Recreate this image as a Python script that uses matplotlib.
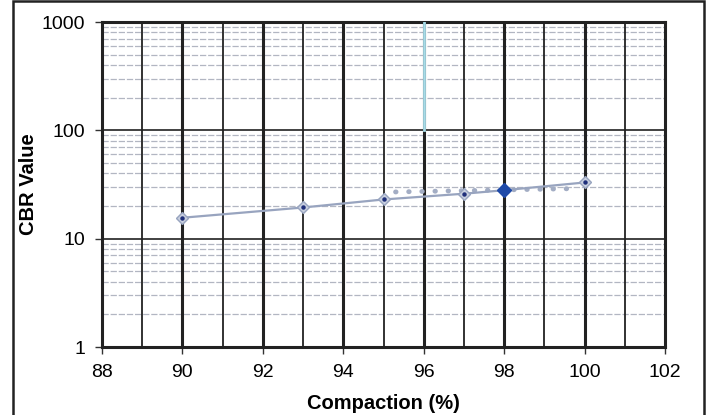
import numpy as np
import matplotlib.pyplot as plt
from matplotlib.patches import Rectangle

plt.rcParams['font.family'] = ['Liberation Sans', 'DejaVu Sans']

# CBR test results
compaction = [90, 93, 95, 97, 98, 100]
cbr = [15.6, 19.4, 23, 26, 28, 33]

# highlighted point (98 %)
hl_x = [98]
hl_y = [28]

# dotted trend segment
trend_x = [95.3, 99.8]
trend_y = [27, 29]

# 96 % marker line
mark_x = 96
mark_y = [100, 1000]

fig = plt.figure(figsize=(7.11, 4.15), dpi=100)
ax = fig.add_axes([102 / 711, 1 - 347 / 415, (665 - 102) / 711, (347 - 22) / 415])

ax.set_yscale('log')
ax.set_xlim(88, 102)
ax.set_ylim(1, 1000)

# minor horizontal grid (2..9 per decade)
for dec in [1, 10, 100]:
    for m in range(2, 10):
        ax.axhline(dec * m, color='#b2b6c2', lw=0.9, ls=(0, (5, 1.5)), zorder=1)
for v in [10, 100]:
    ax.axhline(v, color='#333333', lw=1.3, zorder=2)

# vertical grid, heavier at even values
for xv in range(89, 102):
    ax.axvline(xv, color='#222222', lw=2.2 if xv % 2 == 0 else 1.3, zorder=2)

ax.plot([mark_x, mark_x], mark_y, color='#a8dce8', lw=2, zorder=3)

ax.plot(trend_x, trend_y, color='#a3adc4', lw=3.5, ls=(0, (0.1, 2.6)),
        dash_capstyle='round', zorder=4)
ax.plot(compaction, cbr, color='#98a4bf', lw=1.6, marker='D', ms=6,
        mfc='#c8cfdf', mec='#98a4bf', zorder=5)
ax.plot(compaction, cbr, ls='none', marker='o', ms=2.2, color='#1f2f7a', zorder=6)
ax.plot(hl_x, hl_y, ls='none', marker='D', ms=7, color='#1f4aa8', zorder=7)

for s in ax.spines.values():
    s.set_linewidth(2.2)
    s.set_color('#222222')

ax.set_xticks(range(88, 103, 2))
ax.set_yticks([1, 10, 100, 1000])
ax.set_yticklabels(['1', '10', '100', '1000'])
ax.yaxis.set_minor_locator(plt.NullLocator())
ax.tick_params(axis='both', labelsize=14, length=5, width=1, color='#333333')
ax.tick_params(axis='x', pad=7)
ax.tick_params(axis='y', pad=7)

ax.set_xlabel('Compaction (%)', fontsize=14.5, fontweight='bold', va='center')
ax.set_ylabel('CBR Value', fontsize=14.5, fontweight='bold', va='center')
ax.xaxis.set_label_coords(0.5, -(403 - 347) / 325)
ax.yaxis.set_label_coords(-(102 - 29) / 563, 0.5)

# outer frame
fig.patches.append(Rectangle((13 / 711, -0.01), (704 - 13) / 711, 1.008,
                             transform=fig.transFigure, fill=False,
                             edgecolor='#222222', lw=1.8))

fig.savefig('out.png', dpi=100)
